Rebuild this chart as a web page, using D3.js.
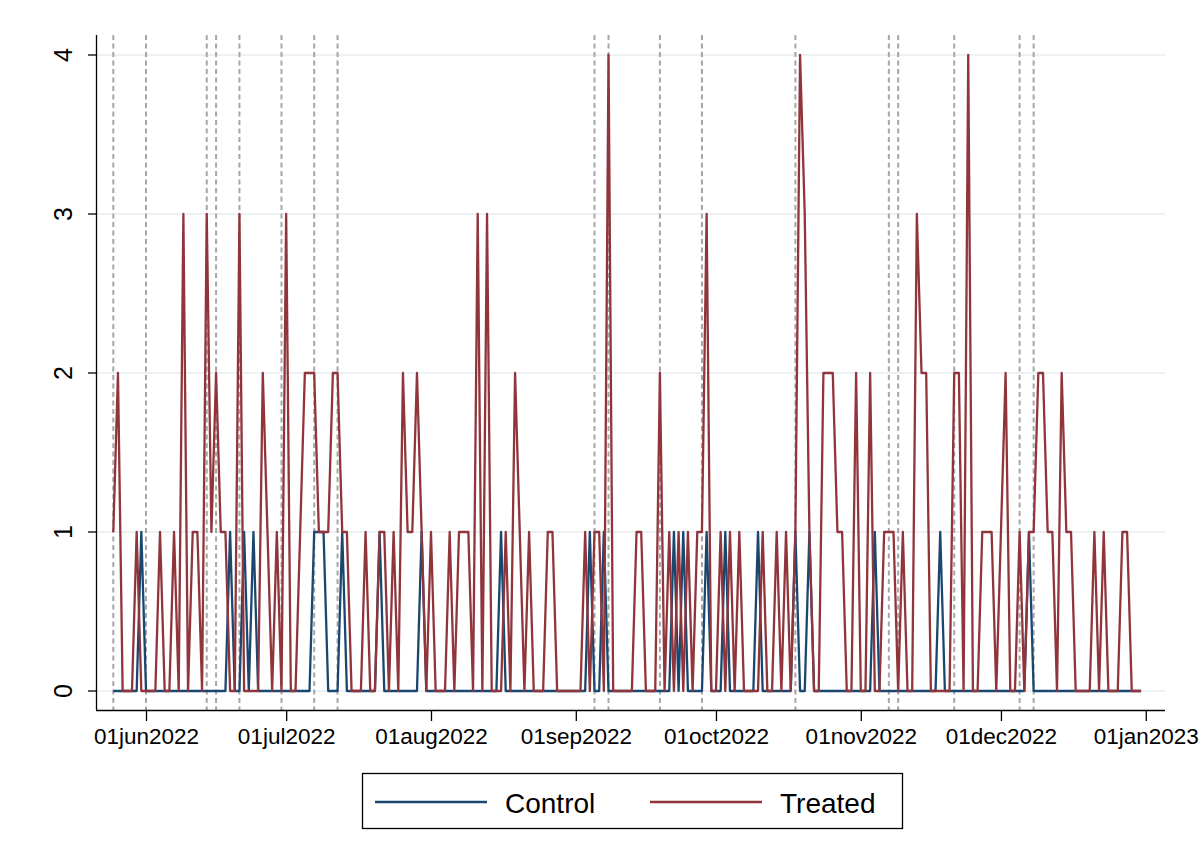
<!DOCTYPE html>
<html lang="en">
<head>
    <meta charset="UTF-8">
    <title>Control vs Treated</title>
    <script src="https://d3js.org/d3.v7.min.js"></script>
    <style>
        body { margin: 0; background: #fff; }
        svg { display: block; font-family: "Liberation Sans", Arial, sans-serif; }
        .grid line { stroke: #e6edef; stroke-width: 1.6; }
        .event { stroke: #a6a6a6; stroke-width: 2; stroke-dasharray: 5,3.5; }
        .series { fill: none; stroke-width: 2.3; stroke-linejoin: round; }
        .axis path, .axis line { stroke: #000; stroke-width: 1.3; }
        .axis text { fill: #000; }
    </style>
</head>
<body>
<div id="chart"></div>
<script>
    const startDate = "2022-05-25";

    // daily counts, one value per day from startDate to 31 Dec 2022
    const control = [
        0,0,0,0,0,0,1,0,0,0,
        0,0,0,0,0,0,0,0,0,0,
        0,0,0,0,0,1,0,0,1,0,
        1,0,0,0,0,0,0,0,0,0,
        0,0,0,1,1,1,0,0,0,1,
        0,0,0,0,0,0,0,1,0,0,
        0,0,0,0,0,0,1,0,0,0,
        0,0,0,0,0,0,0,0,0,0,
        0,0,0,1,0,0,0,0,0,0,
        0,0,0,0,0,0,0,0,0,0,
        0,0,1,0,0,1,0,0,0,0,
        0,0,0,0,0,0,0,0,0,0,
        1,0,1,0,0,0,0,1,0,0,
        0,1,0,0,0,0,0,0,1,0,
        0,0,0,0,0,0,1,0,0,1,
        0,0,0,0,0,0,0,0,0,0,
        0,0,0,1,0,0,0,0,0,0,
        0,0,0,0,0,0,0,1,0,0,
        0,0,0,0,0,0,0,0,0,0,
        0,0,0,0,0,0,1,0,0,0,
        0,0,0,0,0,0,0,0,0,0,
        0,0,0,0,0,0,0,0,0,0,
        0
    ];

    const treated = [
        1,2,0,0,0,1,0,0,0,0,
        1,0,0,1,0,3,0,1,1,0,
        3,1,2,1,1,0,0,3,0,0,
        0,0,2,1,0,1,0,3,0,0,
        1,2,2,2,1,1,1,2,2,1,
        1,0,0,0,1,0,0,1,1,0,
        1,0,2,1,1,2,1,0,1,0,
        0,0,1,0,1,1,1,0,3,0,
        3,0,0,0,1,0,2,1,0,1,
        0,0,0,1,1,0,0,0,0,0,
        0,1,0,1,1,0,4,0,0,0,
        0,0,1,1,0,0,0,2,0,1,
        0,1,0,1,0,1,1,3,0,0,
        1,0,1,0,1,0,0,0,0,1,
        0,0,1,0,1,0,1,4,3,1,
        0,0,2,2,2,1,1,0,0,2,
        0,0,2,0,0,1,1,1,0,1,
        0,0,3,2,2,0,0,0,0,0,
        2,2,0,4,0,0,1,1,1,0,
        1,2,0,0,1,0,1,1,2,2,
        1,1,0,2,1,1,0,0,0,0,
        1,0,1,0,0,0,1,1,0,0,
        0
    ];

    const eventDates = [
        "2022-05-25", "2022-06-01", "2022-06-14", "2022-06-16", "2022-06-21",
        "2022-06-30", "2022-07-07", "2022-07-12", "2022-09-05", "2022-09-08",
        "2022-09-19", "2022-09-28", "2022-10-18", "2022-11-07", "2022-11-09",
        "2022-11-21", "2022-12-05", "2022-12-08"
    ];

    const xTickDates = [
        "2022-06-01", "2022-07-01", "2022-08-01", "2022-09-01",
        "2022-10-01", "2022-11-01", "2022-12-01", "2023-01-01"
    ];
    const yTicks = [0, 1, 2, 3, 4];

    const seriesNames = ["Control", "Treated"];
    const seriesColors = ["#1a476f", "#90353b"];

    const width = 1204, height = 865;
    const parse = d3.utcParse("%Y-%m-%d");
    const fmt = d3.utcFormat("%d%b%Y");

    const start = parse(startDate);
    const rows = control.map((c, i) => ({
        date: d3.utcDay.offset(start, i),
        control: c,
        treated: treated[i]
    }));

    const plot = { left: 96, right: 1165, top: 35, bottom: 710 };

    const x = d3.scaleUtc()
        .domain([start, rows[rows.length - 1].date])
        .range([113.3, 1141.1]);

    const y = d3.scaleLinear()
        .domain([0, 4])
        .range([691, 55]);

    const svg = d3.select("#chart").append("svg")
        .attr("width", width)
        .attr("height", height);

    // horizontal gridlines
    svg.append("g").attr("class", "grid")
        .selectAll("line")
        .data(yTicks)
        .join("line")
        .attr("x1", plot.left).attr("x2", plot.right)
        .attr("y1", d => y(d)).attr("y2", d => y(d));

    // event markers
    svg.append("g")
        .selectAll("line")
        .data(eventDates.map(parse))
        .join("line")
        .attr("class", "event")
        .attr("x1", d => x(d)).attr("x2", d => x(d))
        .attr("y1", plot.top).attr("y2", plot.bottom);

    // series, treated drawn last so it sits on top
    const keys = ["control", "treated"];
    keys.forEach((k, i) => {
        const line = d3.line()
            .x(d => x(d.date))
            .y(d => y(d[k]));
        svg.append("path")
            .datum(rows)
            .attr("class", "series")
            .attr("stroke", seriesColors[i])
            .attr("d", line);
    });

    // x axis
    const xAxis = svg.append("g")
        .attr("class", "axis")
        .attr("transform", `translate(0,${plot.bottom})`)
        .call(d3.axisBottom(x)
            .tickValues(xTickDates.map(parse))
            .tickFormat(d => fmt(d).toLowerCase())
            .tickSize(11)
            .tickPadding(7));
    xAxis.select(".domain").attr("d", `M${plot.left},0.5H${plot.right}`);
    xAxis.selectAll("text").attr("font-size", "22.5px");

    // y axis, labels turned sideways
    const yAxis = svg.append("g")
        .attr("class", "axis")
        .attr("transform", `translate(${plot.left},0)`)
        .call(d3.axisLeft(y)
            .tickValues(yTicks)
            .tickFormat(d3.format("d"))
            .tickSize(8)
            .tickPadding(0));
    yAxis.select(".domain").attr("d", `M0.5,${plot.top}V${plot.bottom}`);
    yAxis.selectAll(".tick").attr("transform", null);
    yAxis.selectAll(".tick line")
        .attr("y1", d => y(d)).attr("y2", d => y(d));
    yAxis.selectAll("text")
        .attr("font-size", "25px")
        .attr("text-anchor", "middle")
        .attr("x", 0).attr("y", 0).attr("dy", 0)
        .attr("dominant-baseline", "central")
        .attr("transform", d => `translate(-33,${y(d)}) rotate(-90)`);

    // legend
    const legend = svg.append("g");
    legend.append("rect")
        .attr("x", 362.5).attr("y", 773.5)
        .attr("width", 540).attr("height", 55)
        .attr("fill", "#fff").attr("stroke", "#000").attr("stroke-width", 1.3);

    const legendX = [375, 650];
    seriesNames.forEach((name, i) => {
        legend.append("line")
            .attr("x1", legendX[i]).attr("x2", legendX[i] + 112)
            .attr("y1", 802).attr("y2", 802)
            .attr("stroke", seriesColors[i]).attr("stroke-width", 2.3);
        legend.append("text")
            .attr("x", legendX[i] + 130).attr("y", 803)
            .attr("dominant-baseline", "central")
            .attr("font-size", "28px")
            .text(name);
    });
</script>
</body>
</html>
